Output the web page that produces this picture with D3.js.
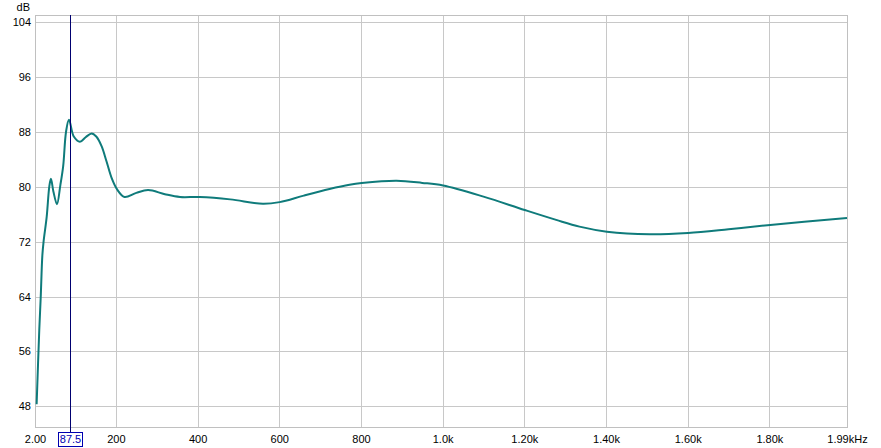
<html>
<head>
<style>
  body { margin: 0; background: #fff; }
  text { font-family: Tahoma, "Liberation Sans", Arial, sans-serif; font-size: 11px; fill: #000; }
  .grid line { stroke: #c8c8c8; stroke-width: 1; shape-rendering: crispEdges; }
  .curve { fill: none; stroke: #0f7b7b; stroke-width: 2; }
</style>
</head>
<body>
<svg id="chart" width="881" height="448"></svg>
<script src="https://cdn.jsdelivr.net/npm/d3@7"></script>
<script>
// response
const freqHz = [6, 12.5, 16, 20, 23, 30.6, 37, 41, 47, 55.8, 64, 71, 78, 85.2, 97, 112, 126, 140.7, 152, 165, 177, 190, 203,
  221, 250, 279, 320, 357, 405, 480, 560, 601, 660, 723, 772, 802, 887, 950, 1001, 1100, 1201, 1278, 1335, 1402,
  1507, 1601, 1700, 1802, 1990]
const levelDb = [48.3, 59.2, 63.9, 70.0, 72.0, 75.6, 80.0, 81.15, 79.3, 77.45, 80.2, 83.0, 88.0, 89.75, 87.3, 86.55, 87.2, 87.75, 87.3, 85.9, 83.7, 81.2, 79.6,
  78.5, 79.1, 79.5, 78.9, 78.5, 78.5, 78.15, 77.5, 77.75, 78.7, 79.65, 80.27, 80.52, 80.86, 80.55, 80.17, 78.55, 76.6, 75.16, 74.18, 73.45,
  73.07, 73.26, 73.8, 74.43, 75.45]

const xTicks = [2, 200, 400, 600, 800, 1000, 1200, 1400, 1600, 1800, 1990]
const xTickLabels = ["2.00", "200", "400", "600", "800", "1.0k", "1.20k", "1.40k", "1.60k", "1.80k", "1.99kHz"]
const yTicks = [48, 56, 64, 72, 80, 88, 96, 104]
const cursorHz = 87.5

const svg = d3.select("#chart")
const plotL = 35, plotR = 847, plotT = 15, plotB = 427

let xScale = d3.scaleLinear().domain([2, 1990]).range([plotL, plotR])
let yScale = d3.scaleLinear().domain([45, 105]).range([plotB, plotT])

const px = v => Math.round(v) + 0.5

// grid
let grid = svg.append("g").attr("class", "grid")
grid.selectAll(".vx")
  .data(xTicks.slice(1, -1))
  .join("line")
  .attr("class", "vx")
  .attr("x1", d => px(xScale(d))).attr("x2", d => px(xScale(d)))
  .attr("y1", plotT).attr("y2", plotB)
grid.selectAll(".hy")
  .data(yTicks)
  .join("line")
  .attr("class", "hy")
  .attr("x1", plotL).attr("x2", plotR)
  .attr("y1", d => px(yScale(d))).attr("y2", d => px(yScale(d)))

// frame
svg.append("rect")
  .attr("x", plotL + 0.5).attr("y", plotT + 0.5)
  .attr("width", plotR - plotL).attr("height", plotB - plotT)
  .attr("fill", "none").attr("stroke", "#c0c0c0")
  .attr("shape-rendering", "crispEdges")

// axes (labels only)
let xAxis = svg.append("g")
  .attr("transform", "translate(0," + plotB + ")")
  .call(d3.axisBottom(xScale).tickValues(xTicks)
    .tickFormat((d, i) => xTickLabels[i]).tickSize(0).tickPadding(8))
xAxis.select(".domain").remove()
xAxis.selectAll("text").attr("font-family", null).attr("font-size", null)

let yAxis = svg.append("g")
  .attr("transform", "translate(" + plotL + ",0)")
  .call(d3.axisLeft(yScale).tickValues(yTicks).tickSize(0).tickPadding(4))
yAxis.select(".domain").remove()
yAxis.selectAll("text").attr("font-family", null).attr("font-size", null)

svg.append("text").attr("x", 30).attr("y", 11).attr("text-anchor", "end").text("dB")

// response curve
let data = freqHz.map((f, i) => ({ f: f, db: levelDb[i] }))
let line = d3.line()
  .x(d => xScale(d.f))
  .y(d => yScale(d.db))
  .curve(d3.curveCatmullRom.alpha(0.5))
svg.append("path").datum(data).attr("class", "curve").attr("d", line)

// cursor
let cx = px(xScale(cursorHz))
svg.append("line")
  .attr("x1", cx).attr("x2", cx).attr("y1", plotT).attr("y2", 432)
  .attr("stroke", "#000070").attr("stroke-width", 1)
  .attr("shape-rendering", "crispEdges")
let lbl = svg.append("text")
  .attr("x", cx).attr("y", 443).attr("text-anchor", "middle")
  .style("fill", "#0000b0").text(cursorHz.toFixed(1))
let bb = lbl.node().getBBox()
svg.append("rect")
  .attr("x", Math.round(bb.x - 2) + 0.5).attr("y", 432.5)
  .attr("width", Math.round(bb.width + 3)).attr("height", 14)
  .attr("fill", "none").attr("stroke", "#0000b0")
  .attr("shape-rendering", "crispEdges")
</script>
</body>
</html>
